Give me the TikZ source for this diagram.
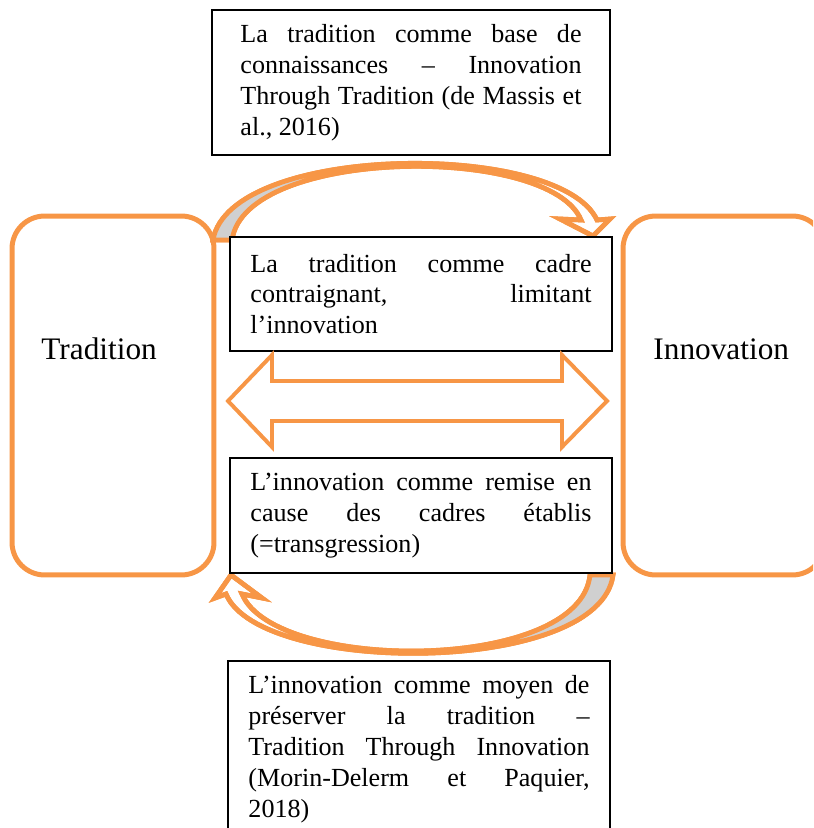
\documentclass[tikz,border=0pt]{standalone}
\usepackage{tikz}
\usepackage{fontspec}
\setmainfont{Liberation Serif}

\definecolor{accentorange}{HTML}{F79646}
\definecolor{undergray}{RGB}{208,208,208}

\tikzset{
	txtbox/.style={draw=black, line width=0.9pt, fill=white, text width=156.9pt, align=justify,
		inner xsep=9.2pt, inner ysep=2pt, minimum width=175.7pt, font=\fontsize{12}{14.2}\selectfont},
	sidebox/.style={draw=accentorange, line width=2.3pt, rounded corners=15pt,
		minimum width=92.9pt, minimum height=165.1pt},
	sidelabel/.style={inner sep=0pt, font=\fontsize{14.4}{17}\selectfont},
	bandarrow/.style={draw=accentorange, line width=2.2pt, fill=white},
}

\begin{document}
\begin{tikzpicture}[x=0.46pt, y=-0.46pt]

		\clip (0,0) rectangle (813,828);

		% tradition / innovation
		\node[sidebox] (trad) at (113,395.5) {};
		\node[sidebox] (inno) at (724,395.5) {};
		\node[sidelabel, anchor=base west] (tradlabel) at (41,359) {Tradition};
		\node[sidelabel, anchor=base west] (innolabel) at (653,359) {Innovation};

		% curved arrow, top
		\path[bandarrow] (213,240) .. controls (230,143) and (560,140) .. (597,220)
			-- (610,219) -- (593,236) -- (560,219) -- (581,220)
			.. controls (550,144) and (245,147) .. (232,240) -- cycle;
		\begin{scope}
			\clip (0,0) rectangle (300,300);
			\fill[undergray] (213,240) .. controls (230,143) and (560,140) .. (597,220)
				-- (581,220) .. controls (550,144) and (245,147) .. (232,240) -- cycle;
		\end{scope}
		\draw[accentorange, line width=2.2pt] (213,240) .. controls (230,143) and (560,140) .. (597,220)
			-- (610,219) -- (593,236) -- (560,219) -- (581,220)
			.. controls (550,144) and (245,147) .. (232,240) -- cycle;

		% curved arrow, bottom
		\path[bandarrow] (613,575) .. controls (600,676) and (260,676) .. (226,594)
			-- (215,598) -- (231,575) -- (262,598) -- (242,594)
			.. controls (275,673) and (580,673) .. (590,575) -- cycle;
		\begin{scope}
			\clip (520,560) rectangle (813,700);
			\fill[undergray] (613,575) .. controls (600,676) and (260,676) .. (226,594)
				-- (242,594) .. controls (275,673) and (580,673) .. (590,575) -- cycle;
		\end{scope}
		\draw[accentorange, line width=2.2pt] (613,575) .. controls (600,676) and (260,676) .. (226,594)
			-- (215,598) -- (231,575) -- (262,598) -- (242,594)
			.. controls (275,673) and (580,673) .. (590,575) -- cycle;

		% text boxes
		\node[txtbox, minimum width=183.1pt, minimum height=66.7pt] (base) at (411,82.5) {
			La tradition comme base de\linebreak
			connaissances – Innovation\linebreak
			Through Tradition (de Massis et\linebreak
			al., 2016)
		};
		\node[txtbox, minimum height=52.4pt] (cadre) at (421,294) {
			La tradition comme cadre\linebreak
			contraignant, limitant\linebreak
			l’innovation
		};
		\node[txtbox, minimum height=52.9pt] (remise) at (421,515.5) {
			L’innovation comme remise en\linebreak
			cause des cadres établis\linebreak
			(=transgression)
		};
		\node[txtbox, minimum height=81pt] (moyen) at (419,749) {
			L’innovation comme moyen de\linebreak
			préserver la tradition –\linebreak
			Tradition Through Innovation\linebreak
			(Morin-Delerm et Paquier,\linebreak
			2018)
		};

		% double arrow
		\draw[accentorange, line width=1.8pt] (228,401) -- (272,355) -- (272,381) -- (562,381)
			-- (562,355) -- (607,401) -- (562,447) -- (562,421) -- (272,421) -- (272,447) -- cycle;

	\end{tikzpicture}
\end{document}
